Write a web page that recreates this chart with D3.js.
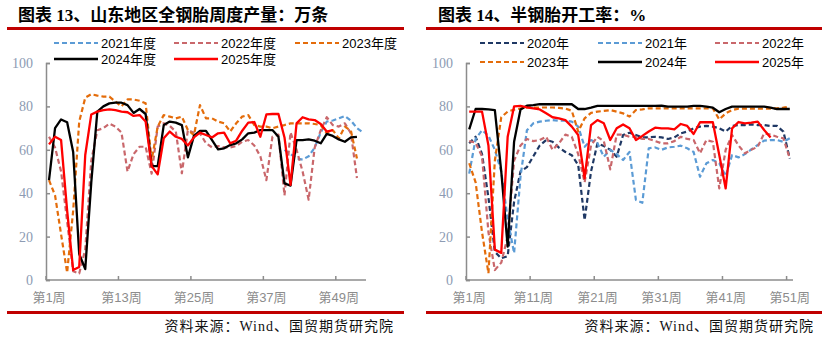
<!DOCTYPE html>
<html>
<head>
<meta charset="utf-8">
<script src="https://cdn.jsdelivr.net/npm/d3@7"></script>
<style>
  body { margin: 0; background: #fff; }
  svg { display: block; }
</style>
</head>
<body>
<svg id="chart" width="827" height="339"></svg>
<script>
// ---------- data: left chart (山东全钢胎周度产量, 万条), weeks 1..53 ----------
var weeksL = d3.range(1, 54);
var ticksL = [1, 13, 25, 37, 49];
var tickLabelsL = ['第1周', '第13周', '第25周', '第37周', '第49周'];

var prod2021 = [null,null,null,null,null,null,null,null,null,null,
  null,null,null,null,null,null,null,null,null,null,
  null,null,null,null,null,null,null,null,null,null,
  null,null,null,null,null,null,null,null,null,
  60,58,56,55.5,57,61,68,73,73.5,74.5,75.6,73.5,70,68];
var prod2022 = [66,61,50,27,4,3,14,55,69,70,72,70.7,68,50,58,61.4,61.4,49,70.7,72.2,
  71,68.4,49.2,69.1,67.9,67.6,63,61.1,61.7,61.1,61.1,61.7,63.7,64.5,62,57,46,66,67,39,
  68,60,50,37,61,69,75,71.4,70.7,72.2,67.6,47,null];
var prod2023 = [46,39,21,3.4,32,73,84,85.6,85,84.5,84.5,82.2,80,83.2,83.2,82.6,81.4,55.3,70.7,76,
  75.3,74.5,75.3,69.1,66.8,80.6,74.5,74.5,73,72.2,68.4,72.2,75.3,76,71.4,70.7,70.7,69.9,70.7,71.4,
  72.2,72.2,72.2,72.2,71.9,71.4,67.6,69.1,65.3,70.7,68.8,56,null];
var prod2024 = [46,70,74,72.7,59,12,5,45,77.6,80,81.4,81.7,81.7,80.6,77,78.8,76.5,52.5,52.5,71.4,
  73,72.5,71.4,56.5,66.4,68.7,68.7,64.5,60.2,60.7,62.2,63,64.8,67.6,67.9,69.1,69.1,69.1,66,44.5,
  43.5,64.5,64.5,64.8,64.2,63,67.3,66.4,64.8,63.7,65.7,66,null];
var prod2025 = [62.5,66,64.5,32,4.6,6,57.6,76.3,77.6,78.3,78.6,78.3,77.6,77.3,75.6,76,73,52.5,48.7,65.3,
  68.4,66,65,62,65.7,67.9,66.8,65.7,67.6,67.9,63,64.2,68.8,72.5,72.8,66,76.3,76.5,76.5,65.7,
  43.8,72.2,75,74,73.7,71.9,68.4,69.1];

// ---------- data: right chart (半钢胎开工率, %), weeks 1..51 ----------
var weeksR = d3.range(1, 52);
var ticksR = [1, 11, 21, 31, 41, 51];
var tickLabelsR = ['第1周', '第11周', '第21周', '第31周', '第41周', '第51周'];

var rate2020 = [63,66,58,38,13,10,11,36,50,52,57,62,64.5,63.7,61,59,57.5,53,27.6,50,
  63,61.7,60,56.8,66.8,67.9,66.8,65.7,65.7,66,65.7,65,65.7,67.6,68.4,69.9,70.7,71,70.7,69.9,
  68.4,71,71.4,71.4,71.7,71.4,71.4,71,71,68.4,56];
var rate2021 = [49,65,69,66.5,60,50,28,12.4,47.6,69,72.2,73,73.4,73.7,73.4,73.4,73,70.7,61.4,64.5,
  63,56.8,60,58,55.3,59,36.9,35.6,60.7,61.1,60,61.1,61.4,61.9,60.7,59,47.6,53.8,55.3,53.8,
  47.9,57.6,56.5,58,60.2,62.2,64.2,64.5,64.5,63.7,65.3];
var rate2022 = [64,63.3,57,22,4.6,8,20,55,62,65,64,64.5,66,60,63,67,66,58,45,62,
  66,64,51,67,67,66,66,65,65,64,63,63,64,66,65,64.5,58.4,64.5,63.7,42.2,
  60,66.8,62,58.4,60,61.4,67.6,67,66,65.3,56];
var rate2023 = [53.8,45,22,3.1,55,75,77.6,78.5,79,79.5,79.5,79.5,79.5,79.5,79.3,79,78,68.4,74.5,77,
  77.6,77.9,78.3,77.6,76.8,75.3,78.3,78.6,79.1,79.1,79.1,79.1,79.1,79.1,79.1,79.1,79.1,79.1,79.1,74,
  76.8,78.3,79,79,79,79,79,79,79.1,79.4,80];
var rate2024 = [69.4,78.8,78.8,78.6,78.3,50,15.4,63.7,78.6,80.3,80.6,81,81,81,81,81,81,78.8,78.8,79.4,
  80.2,80.2,80.2,80.2,80.2,80.2,80.2,80.2,80.2,80.2,80.3,79.9,79.9,79.9,79.9,80.2,80.2,79.9,79.4,77.3,
  78.8,79.9,79.9,79.9,79.9,79.9,79.9,79.4,78.8,78.8,78.8];
var rate2025 = [77.6,77.6,77.6,62,14,12.5,66,80,80.2,79.6,79.1,78.6,76.8,75,74.5,73.7,70.7,66.8,46.9,71.4,
  73.7,72.2,64.5,69.9,71.7,69.9,64.5,66.4,68.4,70.2,69.9,69.9,69.4,71.9,71,67.3,72.7,72.7,72.7,57.6,
  42.2,69.9,72.8,72.2,72.5,73,69.1,65.7];

// ---------- styles ----------
var C20 = '#1f3864', C21 = '#5b9bd5', C22 = '#c9676b', C23 = '#e46c0a', C24 = '#000000', C25 = '#ff0000';
var DASH = '5,3';

var svg = d3.select('#chart');
svg.append('rect').attr('width', 827).attr('height', 339).attr('fill', '#fff');

function drawChart(opt) {
  var g = svg.append('g');

  // title + red rules
  g.append('text')
    .attr('x', opt.titleX).attr('y', 21)
    .attr('font-family', '"Liberation Serif", "Noto Sans CJK SC", serif')
    .attr('font-weight', 'bold').attr('font-size', 17)
    .attr('fill', '#000')
    .text(opt.title);
  g.append('rect').attr('x', opt.ruleX0).attr('y', 27).attr('width', opt.ruleX1 - opt.ruleX0).attr('height', 3).attr('fill', '#c00000');
  g.append('rect').attr('x', opt.ruleX0).attr('y', 311).attr('width', opt.ruleX1 - opt.ruleX0).attr('height', 3).attr('fill', '#c00000');
  g.append('text')
    .attr('x', opt.sourceX).attr('y', 331)
    .attr('text-anchor', 'end')
    .attr('font-family', '"Liberation Serif", "Noto Sans CJK SC", serif')
    .attr('font-size', 14).attr('letter-spacing', 1)
    .attr('fill', '#111')
    .text('资料来源：Wind、国贸期货研究院');

  var x = d3.scaleBand().domain(opt.weeks).range([opt.x0, opt.x1]).padding(0);
  var y = d3.scaleLinear().domain([0, 100]).range([280, 63]);
  var cx = function (i) { return x(opt.weeks[i]) + x.bandwidth() / 2; };

  // y axis
  var yAxis = d3.axisLeft(y).tickValues([0, 20, 40, 60, 80, 100]).tickSize(-4).tickPadding(13);
  var ya = g.append('g').attr('transform', 'translate(' + opt.x0 + ',0)').call(yAxis);
  ya.select('.domain').attr('stroke', '#8c8c8c').attr('stroke-width', 1.5);
  ya.selectAll('.tick line').attr('stroke', '#8c8c8c').attr('stroke-width', 1.5);
  ya.selectAll('.tick text')
    .attr('font-family', '"Liberation Serif", serif').attr('font-size', 14)
    .attr('fill', '#8d9bb3');

  // x axis: line, boundary ticks, centred labels
  g.append('line')
    .attr('x1', opt.x0).attr('x2', opt.x1).attr('y1', y(0)).attr('y2', y(0))
    .attr('stroke', '#8c8c8c').attr('stroke-width', 1.5);
  g.selectAll('.xt').data(opt.ticks).enter().append('line')
    .attr('x1', function (d) { return x(d); }).attr('x2', function (d) { return x(d); })
    .attr('y1', y(0)).attr('y2', y(0) - 4)
    .attr('stroke', '#8c8c8c').attr('stroke-width', 1.5);
  g.selectAll('.xl').data(opt.ticks).enter().append('text')
    .attr('x', function (d) { return x(d) + x.bandwidth() / 2; })
    .attr('y', 302)
    .attr('text-anchor', 'middle')
    .attr('font-family', '"Liberation Sans", "Noto Sans CJK SC", sans-serif')
    .attr('font-size', 13).attr('fill', '#8c8c8c')
    .text(function (d, i) { return opt.tickLabels[i]; });

  // lines
  var line = d3.line()
    .defined(function (d) { return d != null; })
    .x(function (d, i) { return cx(i); })
    .y(function (d) { return y(d); });

  opt.series.forEach(function (s) {
    g.append('path')
      .datum(s.values)
      .attr('d', line)
      .attr('fill', 'none')
      .attr('stroke', s.color)
      .attr('stroke-width', s.dash ? 2.2 : 2.3)
      .attr('stroke-dasharray', s.dash ? DASH : null)
      .attr('stroke-linejoin', 'round');
  });

  // legend
  opt.series.forEach(function (s) {
    g.append('line')
      .attr('x1', s.lx).attr('x2', s.lx + 44).attr('y1', s.ly).attr('y2', s.ly)
      .attr('stroke', s.color).attr('stroke-width', s.dash ? 2.2 : 2.6)
      .attr('stroke-dasharray', s.dash ? DASH : null);
    g.append('text')
      .attr('x', s.lx + 47).attr('y', s.ly + 4.5)
      .attr('font-family', '"Liberation Sans", "Noto Sans CJK SC", sans-serif')
      .attr('font-size', 13).attr('fill', '#000')
      .text(s.name);
  });
}

drawChart({
  title: '图表 13、山东地区全钢胎周度产量：万条',
  titleX: 18, ruleX0: 7, ruleX1: 404, sourceX: 394,
  weeks: weeksL, x0: 46, x1: 366,
  ticks: ticksL, tickLabels: tickLabelsL,
  series: [
    {name: '2021年度', values: prod2021, color: C21, dash: true, lx: 54, ly: 43},
    {name: '2022年度', values: prod2022, color: C22, dash: true, lx: 174, ly: 43},
    {name: '2023年度', values: prod2023, color: C23, dash: true, lx: 295, ly: 43},
    {name: '2024年度', values: prod2024, color: C24, dash: false, lx: 54, ly: 59},
    {name: '2025年度', values: prod2025, color: C25, dash: false, lx: 174, ly: 59}
  ]
});

drawChart({
  title: '图表 14、半钢胎开工率：%',
  titleX: 438, ruleX0: 426, ruleX1: 822, sourceX: 814,
  weeks: weeksR, x0: 466, x1: 793,
  ticks: ticksR, tickLabels: tickLabelsR,
  series: [
    {name: '2020年', values: rate2020, color: C20, dash: true, lx: 480, ly: 43},
    {name: '2021年', values: rate2021, color: C21, dash: true, lx: 598, ly: 43},
    {name: '2022年', values: rate2022, color: C22, dash: true, lx: 715, ly: 43},
    {name: '2023年', values: rate2023, color: C23, dash: true, lx: 480, ly: 62},
    {name: '2024年', values: rate2024, color: C24, dash: false, lx: 598, ly: 62},
    {name: '2025年', values: rate2025, color: C25, dash: false, lx: 715, ly: 62}
  ]
});
</script>
</body>
</html>
